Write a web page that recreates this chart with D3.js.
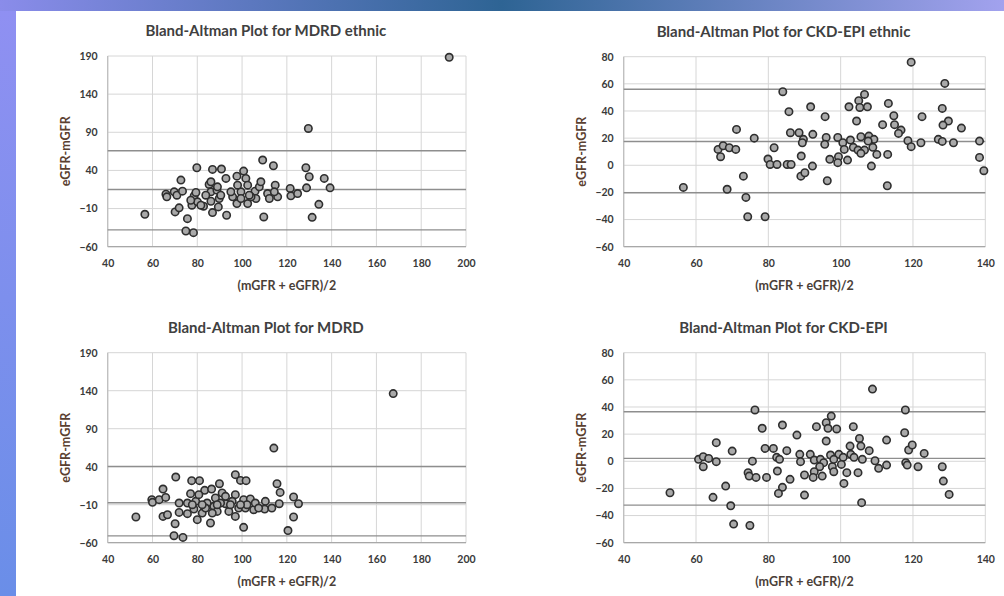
<!DOCTYPE html>
<html><head><meta charset="utf-8">
<script src="https://cdn.jsdelivr.net/npm/d3@7"></script>
<style>
html,body{margin:0;padding:0;background:#fff;}
svg{display:block;}
text{font-family:Lato,"Open Sans",sans-serif;}
</style></head>
<body><svg id="c" width="1004" height="596"></svg>
<script>
// ---------- DATA ----------
const titles = ["Bland-Altman Plot for MDRD ethnic","Bland-Altman Plot for CKD-EPI ethnic","Bland-Altman Plot for MDRD","Bland-Altman Plot for CKD-EPI"];
const xTitle = "(mGFR + eGFR)/2";
const yTitle = "eGFR-mGFR";
const xTicksMDRD = [40,60,80,100,120,140,160,180,200];
const yTicksMDRD = [-60,-10,40,90,140,190];
const xTicksCKD = [40,60,80,100,120,140];
const yTicksCKD = [-60,-40,-20,0,20,40,60,80];

// mean and limits of agreement
const linesMDRDEthnic = [65.7, 15, -38];
const linesCKDEthnic = [56, 17.5, -20.3];
const linesMDRD = [40.2, -7.5, -51];
const linesCKD = [36.5, 2.1, -32.3];

const mdrdEthnic = [[56.6,-17.5],[66,8.9],[66.4,5.4],[69.7,11.9],[70.9,7.5],[72.7,27.3],[73.4,12.8],[70.1,-14.4],[71.9,-9.1],[75.6,-23.2],[74.9,-39.4],[78.3,-41.6],[79.8,43.5],[78.6,6.7],[77.6,-5.6],[80.1,-1.2],[82.8,-6.9],[86.8,41.3],[90.8,41.8],[92.8,29.5],[85.3,21.6],[86.1,11.9],[88.8,14.1],[89.8,3.2],[86.1,-0.4],[89.4,-7.8],[86.8,-15.3],[93.1,-18.8],[95.8,5.4],[97.7,32.5],[100.7,39.1],[101.7,29.5],[99.5,11.9],[97.7,-3.4],[102.5,-3.4],[105.8,12.8],[107.7,18.5],[109.2,53.6],[114,46.1],[109.7,-21],[111.4,9.7],[114.8,20.7],[115.9,5.4],[121.5,16.3],[121.8,6.7],[124.8,9.7],[128.5,43.5],[130,31.7],[128.8,17.2],[134.3,-4.5],[131.3,-21.5],[136.7,29.5],[139.3,17.2],[106.2,3.2],[104,5.4],[112.2,3.2],[90.5,7.5],[83.8,7.5],[108.4,25.1],[95,11.9],[102.5,20.7],[98,20.7],[79.4,11.1],[81.6,-5.6],[77.1,0.9],[99.5,3.2],[103.2,7.5],[114.4,11.9],[86.1,25.1],[89,18.5],[129.6,95],[192.5,188.3]];

const ckdEthnic = [[119.5,76],[128.8,60.3],[84,54.2],[106.6,52.2],[105,47.6],[113.2,45.6],[102.3,43.1],[105.3,42.6],[107.4,43.1],[91.7,43.1],[128.1,41.9],[85.7,39.5],[95.7,35.8],[122.5,35.8],[114.7,36.5],[104.4,32.6],[129.8,32.6],[128.3,29.6],[133.4,27.4],[111.6,29.9],[114.9,29.9],[71.2,26.4],[116.7,25.9],[116,23.5],[86.1,24],[88.5,24],[92.3,22.8],[89.7,19.1],[89.4,16.6],[76.1,20],[96,20.5],[95.6,15.4],[99.2,20.5],[100.6,16.6],[102.7,18.6],[105.6,21],[107.8,21.5],[109.2,19.1],[101,11.7],[103.5,13.2],[104.8,11.2],[106.6,11.2],[108.9,13.2],[105.6,8.8],[99.4,6.3],[97,4.4],[101.9,3.8],[110,8],[113,8],[108.5,-0.6],[99.2,1.9],[118.6,18.1],[119.5,13.7],[122.2,16.6],[127,19.1],[128.1,17.6],[131.2,16.6],[138.4,17.8],[138.4,5.8],[139.6,-4],[112.9,-15.1],[89.1,6.8],[92.2,-0.6],[89,-8],[90.1,-5.5],[96.3,-11.4],[81.6,12.9],[79.9,4.6],[80.5,0.6],[82.4,0.6],[85.2,0.6],[86.3,0.6],[66.1,11.7],[67.5,14.4],[69.2,12.9],[71,11.7],[66.8,6.3],[56.5,-16.3],[68.6,-17.7],[73.1,-8],[73.8,-23.7],[74.3,-37.9],[79.1,-37.9],[107.6,17.8]];

const mdrd = [[52.6,-26.2],[59.7,-3.4],[60,-6.9],[63,-3.4],[64.7,10.6],[65.9,-0.4],[64.7,-25.4],[66.7,-23.2],[70.4,26.4],[70.1,-35],[69.6,-50.8],[73.6,-53],[71.9,-7.8],[71.9,-20.1],[75.6,-21.8],[77.5,21.6],[81,21.6],[77,4.5],[79.3,-5.6],[78.5,-15.7],[80,-29.7],[82.2,-21],[83.3,8.9],[86.4,10.6],[89.9,17.6],[91.1,5.4],[85.9,-34.1],[87.4,-12.2],[88.9,-18.8],[84.4,-7.8],[92.6,-8.7],[94.1,-18.8],[97,29.5],[99.3,22],[101.8,21.6],[97,3.2],[95.6,-5.6],[100.7,-3.4],[98.5,-14.4],[97,-25.4],[100.7,-39.8],[103.7,-2.5],[105.2,-16.6],[110.4,-5.6],[110.1,-15.7],[113.3,-14.4],[116.6,-8.7],[115.6,17.6],[117,6.2],[123,0.1],[125.2,-8.7],[123,-26.2],[120.5,-44],[88.1,-1.2],[80.7,3.2],[75.6,-7.8],[92.6,1],[90.4,-7.8],[94.8,-10],[101.5,-14.4],[105.9,-7.8],[83.7,-14.4],[77.8,-10],[102.2,-10],[86.7,-21],[82.2,-10],[88.9,-10],[99.3,-10],[107.4,-14.4],[114.2,64.5],[167.5,136.2]];

const ckd = [[108.8,53.2],[76.3,37.8],[117.9,37.8],[97.4,33.3],[96,28.4],[93.3,25.5],[96.5,24.3],[98.9,23.8],[103.5,25.5],[83.9,26.7],[78.3,24.3],[87.9,19.3],[96,14.9],[117.7,21],[112.7,15.6],[105.2,16.8],[105.6,11.2],[102.6,11.2],[65.6,13.7],[70,7.5],[79.1,9.5],[81.4,9.5],[85.1,7.8],[82.3,2.9],[83.1,1.4],[88.7,5.1],[88.9,-0.3],[91.6,5.1],[92.7,0.9],[94.4,1.4],[95.3,-1],[97.2,4.6],[99.5,5.1],[100.7,2.9],[100.2,-2.3],[97.7,-4],[94.2,-4],[92.7,-7.7],[94.9,-10.9],[92.4,-11.9],[90,-10.1],[86,-13.3],[82.5,-7.2],[83.9,-19.2],[82.8,-23.7],[90,-24.9],[98.1,-7.7],[101.7,-8.4],[100.9,-16.3],[104.8,-8.4],[105.8,-30.5],[107.9,7.8],[106,1.4],[109.5,0.4],[110.5,-5.2],[112.7,-2.8],[118,-1],[118.4,-2.8],[118.8,8.3],[119.8,12],[121.4,-4],[123.1,5.8],[128.1,-4],[128.4,-14.6],[130,-24.4],[60.7,1.4],[62,3.4],[63.5,2.1],[62,-4],[65.6,-0.3],[52.8,-23.2],[64.7,-26.6],[68.2,-18.3],[69.6,-32.8],[70.4,-46.3],[74.9,-47.3],[75.6,0.1],[74.4,-8.4],[74.7,-10.9],[76.6,-11.9],[79.5,-11.9],[102.8,5.1],[103.7,2.9],[98.1,1.4]];

// ---------- DRAW ----------
const svg = d3.select("#c");
const defs = svg.append("defs");
const gTop = defs.append("linearGradient").attr("id","gtop").attr("x1","0").attr("x2","1").attr("y1","0").attr("y2","0");
gTop.append("stop").attr("offset","0").attr("stop-color","#8a8cea");
gTop.append("stop").attr("offset","0.5").attr("stop-color","#2e6494");
gTop.append("stop").attr("offset","1").attr("stop-color","#a2a2ee");
const gLeft = defs.append("linearGradient").attr("id","gleft").attr("x1","0").attr("x2","0").attr("y1","0").attr("y2","1");
gLeft.append("stop").attr("offset","0").attr("stop-color","#9090f2");
gLeft.append("stop").attr("offset","1").attr("stop-color","#6a8ee8");

svg.append("rect").attr("x",0).attr("y",0).attr("width",1004).attr("height",596).attr("fill","#fff");
svg.append("rect").attr("x",0).attr("y",0).attr("width",16).attr("height",596).attr("fill","url(#gleft)");
svg.append("rect").attr("x",0).attr("y",0).attr("width",1004).attr("height",11).attr("fill","url(#gtop)");

const panels = [
  {title:titles[0], data:mdrdEthnic, lines:linesMDRDEthnic, xt:xTicksMDRD, yt:yTicksMDRD, x0:107.7, x1:466, y0:56, y1:246.7},
  {title:titles[1], data:ckdEthnic, lines:linesCKDEthnic, xt:xTicksCKD, yt:yTicksCKD, x0:623.7, x1:985.3, y0:56.7, y1:246.7},
  {title:titles[2], data:mdrd, lines:linesMDRD, xt:xTicksMDRD, yt:yTicksMDRD, x0:107.7, x1:466, y0:352.7, y1:542.7},
  {title:titles[3], data:ckd, lines:linesCKD, xt:xTicksCKD, yt:yTicksCKD, x0:623.7, x1:985.3, y0:352.7, y1:542.7}
];

panels.forEach(p => {
  const xs = d3.scaleLinear().domain([p.xt[0], p.xt[p.xt.length-1]]).range([p.x0, p.x1]);
  const ys = d3.scaleLinear().domain([p.yt[0], p.yt[p.yt.length-1]]).range([p.y1, p.y0]);
  const g = svg.append("g");
  // grid
  g.selectAll(".vg").data(p.xt).join("line")
    .attr("x1",d=>xs(d)).attr("x2",d=>xs(d)).attr("y1",p.y0).attr("y2",p.y1)
    .attr("stroke","#d6d6d6").attr("stroke-width",1);
  g.selectAll(".hg").data(p.yt).join("line")
    .attr("x1",p.x0).attr("x2",p.x1).attr("y1",d=>ys(d)).attr("y2",d=>ys(d))
    .attr("stroke","#d6d6d6").attr("stroke-width",1);
  // axis lines
  g.append("line").attr("x1",p.x0).attr("x2",p.x1).attr("y1",p.y1).attr("y2",p.y1).attr("stroke","#a8a8a8").attr("stroke-width",1.2);
  g.append("line").attr("x1",p.x0).attr("x2",p.x0).attr("y1",p.y0).attr("y2",p.y1).attr("stroke","#bdbdbd").attr("stroke-width",1.2);
  // agreement lines
  g.selectAll(".al").data(p.lines).join("line")
    .attr("x1",p.x0).attr("x2",p.x1).attr("y1",d=>ys(d)).attr("y2",d=>ys(d))
    .attr("stroke","#8e8e8e").attr("stroke-width",1.4);
  // axes
  const ax = g.append("g").attr("transform",`translate(0,${p.y1})`)
    .call(d3.axisBottom(xs).tickValues(p.xt).tickSize(0).tickPadding(13).tickFormat(d3.format("d")));
  const ay = g.append("g").attr("transform",`translate(${p.x0},0)`)
    .call(d3.axisLeft(ys).tickValues(p.yt).tickSize(0).tickPadding(10).tickFormat(d3.format("d")));
  [ax,ay].forEach(a=>{
    a.select(".domain").remove();
    a.selectAll("text").attr("font-family","Lato,sans-serif").attr("font-size",10.5).attr("font-weight","bold").attr("fill","#3a3a3a");
  });
  // points
  g.selectAll("circle").data(p.data).join("circle")
    .attr("cx",d=>xs(d[0])).attr("cy",d=>ys(d[1])).attr("r",3.7)
    .attr("fill","#a9a9a9").attr("stroke","#2e2e2e").attr("stroke-width",1.6);
  const cx = (p.x0+p.x1)/2, cy=(p.y0+p.y1)/2;
  g.append("text").attr("x",cx-21).attr("y",p.y0-20).attr("text-anchor","middle")
    .attr("font-size",15).attr("font-weight","bold").attr("fill","#404040").text(p.title);
  g.append("text").attr("x",cx).attr("y",p.y1+43).attr("text-anchor","middle")
    .attr("font-size",12.5).attr("font-weight","bold").attr("fill","#4a4038").text(xTitle);
  g.append("text").attr("transform",`translate(${p.x0-37.5},${cy}) rotate(-90)`).attr("text-anchor","middle")
    .attr("font-size",12.5).attr("font-weight","bold").attr("fill","#5a4030").text(yTitle);
});
</script></body></html>
